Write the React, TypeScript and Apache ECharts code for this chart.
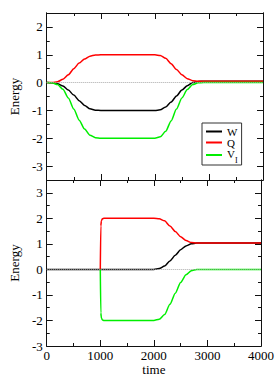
import React, { useEffect, useRef } from 'react';
import * as echarts from 'echarts';

// ---- data ----
const T_TOP = [0, 100, 200, 300, 400, 500, 600, 700, 800, 900, 1000, 1100, 1200, 1300, 1400, 1500, 1600, 1700, 1800, 1900, 2000, 2100, 2200, 2300, 2400, 2500, 2600, 2700, 2800, 2900, 3000, 3100, 3200, 3300, 3400, 3500, 3600, 3700, 3800, 3900, 4000];
const W_TOP = [0, -0.01, -0.04, -0.12, -0.27, -0.45, -0.65, -0.82, -0.94, -0.99, -1, -1, -1, -1, -1, -1, -1, -1, -1, -1, -1, -0.98, -0.88, -0.7, -0.48, -0.27, -0.11, 0.0, 0.04, 0.05, 0.05, 0.05, 0.05, 0.05, 0.05, 0.05, 0.05, 0.05, 0.05, 0.05, 0.05];
const Q_TOP = [0, 0, 0.03, 0.12, 0.28, 0.5, 0.7, 0.85, 0.95, 0.99, 1, 1, 1, 1, 1, 1, 1, 1, 1, 1, 1, 0.97, 0.87, 0.68, 0.47, 0.28, 0.14, 0.07, 0.05, 0.05, 0.05, 0.05, 0.05, 0.05, 0.05, 0.05, 0.05, 0.05, 0.05, 0.05, 0.05];
const V_TOP = [0, -0.01, -0.07, -0.24, -0.55, -0.95, -1.35, -1.67, -1.89, -1.98, -2, -2, -2, -2, -2, -2, -2, -2, -2, -2, -2, -1.95, -1.75, -1.38, -0.95, -0.55, -0.25, -0.07, -0.01, 0, 0, 0, 0, 0, 0, 0, 0, 0, 0, 0, 0];

const T_BOT_W = T_TOP;
const W_BOT = [0, 0, 0, 0, 0, 0, 0, 0, 0, 0, 0, 0, 0, 0, 0, 0, 0, 0, 0, 0, 0, 0.03, 0.13, 0.33, 0.55, 0.77, 0.92, 1.0, 1.03, 1.03, 1.03, 1.03, 1.03, 1.03, 1.03, 1.03, 1.03, 1.03, 1.03, 1.03, 1.03];
const T_BOT_QV = [1000, 1010, 1020, 1040, 1070, 1100, 1200, 1300, 1400, 1500, 1600, 1700, 1800, 1900, 2000, 2100, 2200, 2300, 2400, 2500, 2600, 2700, 2800, 2900, 3000, 3100, 3200, 3300, 3400, 3500, 3600, 3700, 3800, 3900, 4000];
const Q_BOT = [0, 1.7, 1.9, 1.98, 2, 2, 2, 2, 2, 2, 2, 2, 2, 2, 2, 1.98, 1.9, 1.7, 1.48, 1.28, 1.13, 1.05, 1.03, 1.03, 1.03, 1.03, 1.03, 1.03, 1.03, 1.03, 1.03, 1.03, 1.03, 1.03, 1.03];
const V_BOT = [0, -1.7, -1.9, -1.98, -2, -2, -2, -2, -2, -2, -2, -2, -2, -2, -2, -1.95, -1.77, -1.37, -0.93, -0.51, -0.21, -0.05, 0, 0, 0, 0, 0, 0, 0, 0, 0, 0, 0, 0, 0];

const TOP_MAJOR = [-3, -2, -1, 0, 1, 2];
const TOP_MINOR = [-3.5, -2.5, -1.5, -0.5, 0.5, 1.5, 2.5];
const BOT_MAJOR = [-3, -2, -1, 0, 1, 2, 3];
const BOT_MINOR = [-2.5, -1.5, -0.5, 0.5, 1.5, 2.5, 3.5];
const SERIES_NAMES = ['W', 'Q', 'VI'];
const COLORS = ['#000000', '#ff0000', '#00ee00'];

const FONT = "'Liberation Serif', serif";
const AX = '#111';

function xAx(gridIndex: number, position: string, showLabels: boolean, name?: string) {
  return {
    type: 'value', gridIndex, position, min: 0, max: 4000, interval: 1000,
    axisLine: { show: true, onZero: false, lineStyle: { color: AX, width: 1 } },
    axisTick: { show: true, inside: true, length: 6, lineStyle: { color: AX } },
    minorTick: { show: true, splitNumber: 2, length: 3, lineStyle: { color: AX } },
    splitLine: { show: false },
    axisLabel: {
      show: showLabels, margin: 3, fontFamily: FONT, fontSize: 13, color: '#000',
      formatter: (v: number) => String(v),
    },
    name, nameLocation: 'middle', nameGap: 13,
    nameTextStyle: { fontFamily: FONT, fontSize: 13, color: '#000' },
  };
}

function yAx(gridIndex: number, position: string, min: number, max: number, values: number[], len: number, labels: boolean, name?: string) {
  return {
    type: 'value', gridIndex, position, min, max,
    axisLine: { show: true, onZero: false, lineStyle: { color: AX, width: 1 } },
    axisTick: { show: true, inside: true, length: len, customValues: values, lineStyle: { color: AX } },
    axisLabel: {
      show: labels, customValues: values, margin: 4, fontFamily: FONT, fontSize: 13, color: '#000',
      formatter: (v: number) => String(v),
    },
    splitLine: { show: false },
    name, nameLocation: 'middle', nameGap: 17,
    nameTextStyle: { fontFamily: FONT, fontSize: 13, color: '#000' },
  };
}

function line(name: string, color: string, xs: number[], ys: number[], xi: number, yi: number, extra: any = {}) {
  return {
    type: 'line', name, xAxisIndex: xi, yAxisIndex: yi,
    data: xs.map((t, i) => [t, ys[i]]),
    showSymbol: false, symbol: 'none', smooth: 0.25, smoothMonotone: 'x',
    lineStyle: { color, width: 1.5 }, itemStyle: { color },
    ...extra,
  };
}

const zeroLine = {
  markLine: {
    silent: true, symbol: 'none', label: { show: false },
    lineStyle: { type: 'dotted', color: '#aaaaaa', width: 1 },
    data: [{ yAxis: 0 }],
  },
};

export default function App() {
  const ref = useRef<HTMLDivElement>(null);
  useEffect(() => {
    const chart = echarts.init(ref.current!, null, { renderer: 'svg' });
    const option: any = {
      animation: false,
      backgroundColor: '#ffffff',
      grid: [
        { left: 42, right: 14, top: 13, height: 167 },
        { left: 42, right: 14, top: 180, height: 166 },
      ],
      xAxis: [
        xAx(0, 'bottom', false),
        xAx(0, 'top', false),
        xAx(1, 'bottom', true, 'time'),
        xAx(1, 'top', false),
      ],
      yAxis: [
        yAx(0, 'left', -3.5, 2.5, TOP_MAJOR, 6, true, 'Energy'),
        yAx(0, 'left', -3.5, 2.5, TOP_MINOR, 3, false),
        yAx(0, 'right', -3.5, 2.5, TOP_MAJOR, 6, false),
        yAx(0, 'right', -3.5, 2.5, TOP_MINOR, 3, false),
        yAx(1, 'left', -3, 3.5, BOT_MAJOR, 6, true, 'Energy'),
        yAx(1, 'left', -3, 3.5, BOT_MINOR, 3, false),
        yAx(1, 'right', -3, 3.5, BOT_MAJOR, 6, false),
        yAx(1, 'right', -3, 3.5, BOT_MINOR, 3, false),
      ],
      legend: {
        data: SERIES_NAMES,
        orient: 'vertical', left: 202, top: 123,
        icon: 'rect', itemWidth: 16, itemHeight: 2, itemGap: 0,
        padding: [3, 4, 0, 4],
        borderColor: '#333', borderWidth: 1, backgroundColor: '#fff',
        selectedMode: false,
        formatter: (n: string) => (n === 'VI' ? '{v|V}{s|I}' : '{n|' + n + '}'),
        textStyle: {
          fontFamily: FONT, fontSize: 11, color: '#000',
          rich: {
            n: { fontFamily: FONT, fontSize: 11, lineHeight: 12.4, color: '#000' },
            v: { fontFamily: FONT, fontSize: 11, lineHeight: 11, color: '#000', padding: [0, 0, 3, 0] },
            s: { fontFamily: FONT, fontSize: 8, lineHeight: 20, color: '#000', verticalAlign: 'bottom', padding: [0, 0, 1, 0] },
          },
        },
      },
      series: [
        line(SERIES_NAMES[0], COLORS[0], T_TOP, W_TOP, 0, 0, zeroLine),
        line(SERIES_NAMES[1], COLORS[1], T_TOP, Q_TOP, 0, 0),
        line(SERIES_NAMES[2], COLORS[2], T_TOP, V_TOP, 0, 0),
        line(SERIES_NAMES[0], COLORS[0], T_BOT_W, W_BOT, 2, 4, zeroLine),
        line(SERIES_NAMES[1], COLORS[1], T_BOT_QV, Q_BOT, 2, 4),
        line(SERIES_NAMES[2], COLORS[2], T_BOT_QV, V_BOT, 2, 4),
      ],
    };
    chart.setOption(option);
    return () => chart.dispose();
  }, []);
  return (
    <div
      ref={ref}
      style={{ position: 'fixed', left: 0, top: 0, width: 277, height: 388, background: '#fff' }}
    />
  );
}
